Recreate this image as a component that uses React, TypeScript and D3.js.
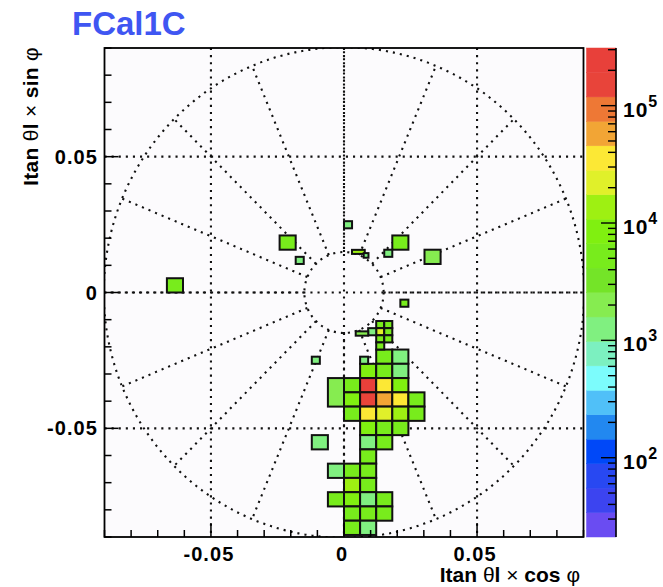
import React from 'react';
import * as d3 from 'd3';

// ---- data ----
const X_DOMAIN: [number, number] = [-0.09, 0.09];
const Y_DOMAIN: [number, number] = [-0.09, 0.09];
const Z_DOMAIN: [number, number] = [21.1, 3.1e5];
const AXIS_TICKS = [-0.05, 0, 0.05];
const AXIS_TICK_LABELS = ['-0.05', '0', '0.05'];
const MINOR_TICKS = [-0.09, -0.08, -0.07, -0.06, -0.05, -0.04, -0.03, -0.02, -0.01, 0, 0.01, 0.02, 0.03, 0.04, 0.05, 0.06, 0.07, 0.08, 0.09];
const Z_DECADES = [2, 3, 4, 5];
const Z_MINOR_MULT = [2, 3, 4, 5, 6, 7, 8, 9];
const ETA_RINGS = [3.1, 4.9];
const PHI_SPOKES_DEG = [0, 22.5, 45, 67.5, 90, 112.5, 135, 157.5, 180, 202.5, 225, 247.5, 270, 292.5, 315, 337.5];
const BIN_W = 0.00605;
const BIN_H = 0.00525;

// palette, lowest -> highest
const PALETTE = ['#6a4cf2', '#3c44f0', '#2848f2', '#0048f8', '#2288f0', '#50c0f8', '#7cfcfc', '#7cf0c0', '#80f080', '#86ec50',
  '#74e428', '#78ec1c', '#80f010', '#9ef012', '#e0f02a', '#fce835', '#f2a535', '#ee7835', '#e8443a', '#e8403a'];

// [column, row, value, rowSpan]
const BIG_CELLS: [number, number, number, number?][] = [
  [-4, 3, 6000], [3, 3, 6500], [5, 2, 1800], [-11, 0, 5500], [-2, -11, 1500],
  [2, -5, 6000], [3, -5, 1500],
  [1, -6, 7000], [2, -6, 6000], [3, -6, 1400],
  [-1, -8, 1600, 2], [0, -7, 6500], [1, -7, 3.1e5], [2, -7, 3.6e4], [3, -7, 7000],
  [0, -8, 7000], [1, -8, 1.7e5], [2, -8, 6e4], [3, -8, 3.5e4], [4, -8, 6000],
  [0, -9, 6000], [1, -9, 3.0e4], [2, -9, 2.2e4], [3, -9, 1.3e4], [4, -9, 6500],
  [1, -10, 7000], [2, -10, 6000], [3, -10, 5500],
  [1, -11, 1500], [2, -11, 6000],
  [1, -12, 6000],
  [-1, -13, 1500], [0, -13, 6000], [1, -13, 6500],
  [0, -14, 1.2e4], [1, -14, 6000],
  [-1, -15, 6500], [0, -15, 7000], [1, -15, 1500], [2, -15, 6000],
  [0, -16, 6500], [1, -16, 6000], [2, -16, 6500],
  [0, -17, 6000], [1, -17, 1500],
];

// half-size cells: [halfColumn, halfRow, value]
const SMALL_CELLS: [number, number, number][] = [
  [4, -5, 5000], [5, -5, 5000], [4, -6, 2.0e4], [5, -6, 5000], [4, -7, 5000], [5, -7, 6000], [4, -8, 5000],
  [3, -6, 1500], [2, -10, 1500],
  [-6, 4, 1500], [0, 9, 1500], [5, 5, 1500], [7, -2, 5000], [-4, -10, 1500],
];

// irregular cells: [x0, y0, x1, y1, value]
const ODD_CELLS: [number, number, number, number, number][] = [
  [0.0030, 0.0142, 0.0078, 0.0157, 1.3e4],
  [0.0074, 0.0128, 0.0092, 0.0145, 1500],
  [0.0044, -0.0159, 0.0091, -0.0143, 2500],
];

const FONT = '"Liberation Sans", Arial, Helvetica, sans-serif';

export default function App() {
  const W = 663, H = 587;
  const fx0 = 104.5, fx1 = 583.5, fy0 = 48, fy1 = 537;
  const cbx0 = 586.5, cbx1 = 616;
  const x = d3.scaleLinear().domain(X_DOMAIN).range([fx0, fx1]);
  const y = d3.scaleLinear().domain(Y_DOMAIN).range([fy1, fy0]);
  const z = d3.scaleLog().domain(Z_DOMAIN).range([fy1, fy0]);
  const nC = PALETTE.length;
  const lz0 = Math.log10(Z_DOMAIN[0]);
  const lz1 = Math.log10(Z_DOMAIN[1]);
  const colorOf = (v: number) => {
    const t = (Math.log10(v) - lz0) / (lz1 - lz0);
    return PALETTE[Math.max(0, Math.min(nC - 1, Math.floor(t * nC)))];
  };

  const cells: { x0: number; y0: number; x1: number; y1: number; v: number }[] = [];
  BIG_CELLS.forEach(([c, r, v, span]) => {
    cells.push({ x0: c * BIN_W, x1: (c + 1) * BIN_W, y0: r * BIN_H, y1: (r + (span || 1)) * BIN_H, v });
  });
  SMALL_CELLS.forEach(([m, k, v]) => {
    cells.push({ x0: (m * BIN_W) / 2, x1: ((m + 1) * BIN_W) / 2, y0: (k * BIN_H) / 2, y1: ((k + 1) * BIN_H) / 2, v });
  });
  ODD_CELLS.forEach(([a, b, c, d, v]) => cells.push({ x0: a, y0: b, x1: c, y1: d, v }));

  const dots = '2.1 5';
  const radii = ETA_RINGS.map((eta) => 1 / Math.sinh(eta));
  const rOut = Math.max(...radii);
  const rIn = Math.min(...radii);
  const cx = x(0), cy = y(0);

  const zLo = Z_DOMAIN[0], zHi = Z_DOMAIN[1];
  const bandEdges = d3.range(nC + 1).map((i) => Math.pow(10, lz0 + ((lz1 - lz0) * i) / nC));
  const zMinor: number[] = [];
  [1, 2, 3, 4, 5].forEach((e) => Z_MINOR_MULT.forEach((m) => {
    const v = m * Math.pow(10, e);
    if (v > zLo && v < zHi) zMinor.push(v);
  }));

  return (
    <svg width={W} height={H} style={{ position: 'absolute', left: 0, top: 0, background: '#fff' }}>
      <defs>
        <clipPath id="frameClip">
          <rect x={fx0} y={fy0} width={fx1 - fx0} height={fy1 - fy0} />
        </clipPath>
      </defs>
      <rect x={0} y={0} width={W} height={H} fill="#fff" />
      <rect x={fx0} y={fy0} width={fx1 - fx0} height={fy1 - fy0} fill="#fcfbfd" />

      {/* grid */}
      <g stroke="#111" strokeWidth={2.1} strokeDasharray={dots} fill="none">
        {AXIS_TICKS.map((t) => (
          <line key={'gx' + t} x1={x(t)} x2={x(t)} y1={fy0} y2={fy1} />
        ))}
        {AXIS_TICKS.map((t) => (
          <line key={'gy' + t} x1={fx0} x2={fx1} y1={y(t)} y2={y(t)} />
        ))}
      </g>

      {/* polar overlay */}
      <g stroke="#111" strokeWidth={2.1} strokeDasharray={dots} fill="none" clipPath="url(#frameClip)">
        {radii.map((r, i) => (
          <ellipse key={'ring' + i} cx={cx} cy={cy} rx={x(r) - cx} ry={cy - y(r)} />
        ))}
        {PHI_SPOKES_DEG.map((deg) => {
          const a = (deg * Math.PI) / 180;
          return (
            <line key={'sp' + deg}
              x1={x(rIn * Math.cos(a))} y1={y(rIn * Math.sin(a))}
              x2={x(rOut * Math.cos(a))} y2={y(rOut * Math.sin(a))} />
          );
        })}
      </g>

      {/* cells */}
      <g clipPath="url(#frameClip)">
        {cells.map((c, i) => (
          <rect key={'c' + i} x={x(c.x0)} y={y(c.y1)} width={x(c.x1) - x(c.x0)} height={y(c.y0) - y(c.y1)}
            fill={colorOf(c.v)} stroke="#111" strokeWidth={2} />
        ))}
      </g>

      {/* frame */}
      <rect x={fx0} y={fy0} width={fx1 - fx0} height={fy1 - fy0} fill="none" stroke="#000" strokeWidth={1.8} />

      {/* ticks */}
      <g stroke="#000" strokeWidth={1.5}>
        {MINOR_TICKS.map((t) => {
          const major = AXIS_TICKS.some((m) => Math.abs(m - t) < 1e-9);
          const L = major ? 14 : 7;
          return (
            <g key={'t' + t}>
              <line x1={x(t)} x2={x(t)} y1={fy1} y2={fy1 - L} />
              <line x1={fx0} x2={fx0 + L} y1={y(t)} y2={y(t)} />
            </g>
          );
        })}
      </g>

      {/* tick labels */}
      <g fontFamily={FONT} fontWeight="bold" fontSize={20} fill="#000" letterSpacing={1.1}>
        {AXIS_TICKS.map((t, i) => (
          <text key={'xl' + t} x={x(t) - 2} y={560.5} textAnchor="middle">{AXIS_TICK_LABELS[i]}</text>
        ))}
        {AXIS_TICKS.map((t, i) => (
          <text key={'yl' + t} x={98} y={y(t) + 7} textAnchor="end">{AXIS_TICK_LABELS[i]}</text>
        ))}
      </g>

      {/* axis titles */}
      <text x={580} y={582} textAnchor="end" fontFamily={FONT} fontSize={21} fill="#000">
        <tspan fontWeight="bold">Itan </tspan><tspan>θ</tspan><tspan fontWeight="bold">l </tspan><tspan>×</tspan>
        <tspan fontWeight="bold"> cos </tspan><tspan>φ</tspan>
      </text>
      <text transform={`translate(38, ${fy0 - 1}) rotate(-90)`} textAnchor="end" fontFamily={FONT} fontSize={21} fill="#000" letterSpacing={0.3}>
        <tspan fontWeight="bold">Itan </tspan><tspan>θ</tspan><tspan fontWeight="bold">l </tspan><tspan>×</tspan>
        <tspan fontWeight="bold"> sin </tspan><tspan>φ</tspan>
      </text>

      {/* title */}
      <text x={72} y={35} fontFamily={FONT} fontWeight="bold" fontSize={33} fill="#3f56f2">FCal1C</text>

      {/* color bar */}
      <g>
        {PALETTE.map((col, i) => (
          <rect key={'cb' + i} x={cbx0} y={z(bandEdges[i + 1])} width={cbx1 - cbx0}
            height={z(bandEdges[i]) - z(bandEdges[i + 1])} fill={col} stroke={col} strokeWidth={0.5} />
        ))}
        <line x1={cbx1} x2={cbx1} y1={fy0} y2={fy1} stroke="#000" strokeWidth={1.6} />
        <g stroke="#000" strokeWidth={1.4}>
          {Z_DECADES.map((e) => (
            <line key={'zM' + e} x1={cbx1} x2={cbx1 - 15} y1={z(Math.pow(10, e))} y2={z(Math.pow(10, e))} />
          ))}
          {zMinor.map((v) => (
            <line key={'zm' + v} x1={cbx1} x2={cbx1 - 8} y1={z(v)} y2={z(v)} />
          ))}
        </g>
        <g fontFamily={FONT} fontWeight="bold" fill="#000">
          {Z_DECADES.map((e) => (
            <text key={'zl' + e} x={623} y={z(Math.pow(10, e)) + 11} fontSize={21} letterSpacing={1}>
              10<tspan dy={-10} fontSize={16}>{e}</tspan>
            </text>
          ))}
        </g>
      </g>
    </svg>
  );
}
